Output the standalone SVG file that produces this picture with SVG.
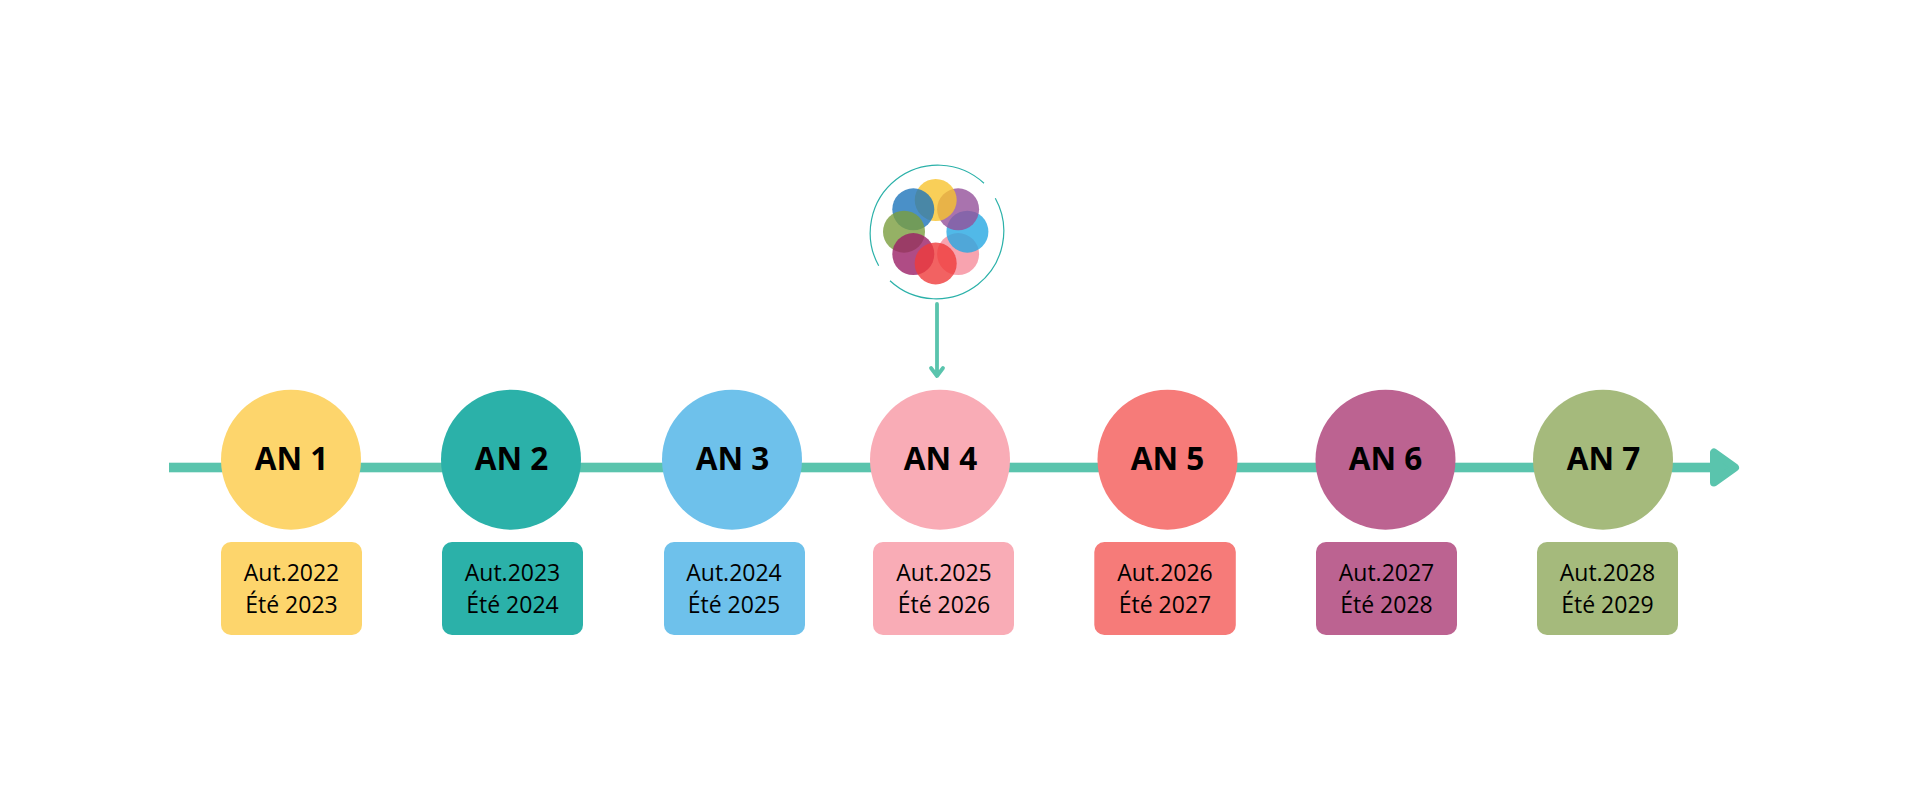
<svg xmlns="http://www.w3.org/2000/svg" width="1920" height="800" viewBox="0 0 1920 800">
<style>
.an{font:700 31.500px "Open Sans",sans-serif;text-anchor:middle;fill:#000}
.d{font:400 23px "Open Sans",sans-serif;text-anchor:middle;fill:#000}
.c1{fill:#FDD56C}.c2{fill:#2BB1A9}.c3{fill:#6EC1EB}.c4{fill:#F9ACB6}.c5{fill:#F67B79}.c6{fill:#BC6391}.c7{fill:#A5BA7C}
.ring{fill:none;stroke:#2BB1A9;stroke-width:1.200}
.p{fill-opacity:.8}
</style>
<rect width="1920" height="800" fill="#fff"/>
<g id="connectors">
<rect x="169" y="462.700" width="1545" height="9.600" fill="#5AC4AD"/>
<path d="M1714 452.500V482.500L1735 467.500Z" fill="#5AC4AD" stroke="#5AC4AD" stroke-width="8" stroke-linejoin="round"/>
<path d="M937 304V375M931 368L937 376L943 368" fill="none" stroke="#5AC4AD" stroke-width="3.800" stroke-linecap="round" stroke-linejoin="round"/>
</g>
<g id="logo">
<path class="ring" d="M984 183.300A67.700 67.700 0 0 0 878.700 265.700"/>
<path class="ring" d="M890 280.700A67.700 67.700 0 0 0 995.300 198.300"/>
<circle class="p" cx="958.100" cy="254.100" r="21" fill="#F68C9B"/>
<circle class="p" cx="967.400" cy="231.700" r="21" fill="#25A8E2"/>
<circle class="p" cx="958.100" cy="209.300" r="21" fill="#93509A"/>
<circle class="p" cx="935.700" cy="200" r="21" fill="#F7C32E"/>
<circle class="p" cx="913.300" cy="209.300" r="21" fill="#1D74BA"/>
<circle class="p" cx="904" cy="231.700" r="21" fill="#7A9E3F"/>
<circle class="p" cx="913.300" cy="254.100" r="21" fill="#9B1F66"/>
<circle class="p" cx="935.700" cy="263.400" r="21" fill="#EF3B3B"/>
</g>
<g id="an1"><circle class="c1" cx="291" cy="459.700" r="70"/><text class="an" x="291.500" y="470">AN 1</text><rect class="c1" x="221" y="542" width="141" height="93" rx="10"/><text class="d" x="291.500" y="581">Aut.2022</text><text class="d" x="291.500" y="612.500">Été 2023</text></g>
<g id="an2"><circle class="c2" cx="511" cy="459.700" r="70"/><text class="an" x="511.500" y="470">AN 2</text><rect class="c2" x="442" y="542" width="141" height="93" rx="10"/><text class="d" x="512.500" y="581">Aut.2023</text><text class="d" x="512.500" y="612.500">Été 2024</text></g>
<g id="an3"><circle class="c3" cx="732" cy="459.700" r="70"/><text class="an" x="732.500" y="470">AN 3</text><rect class="c3" x="664" y="542" width="141" height="93" rx="10"/><text class="d" x="734" y="581">Aut.2024</text><text class="d" x="734" y="612.500">Été 2025</text></g>
<g id="an4"><circle class="c4" cx="940" cy="459.700" r="70"/><text class="an" x="940.500" y="470">AN 4</text><rect class="c4" x="873" y="542" width="141" height="93" rx="10"/><text class="d" x="944" y="581">Aut.2025</text><text class="d" x="944" y="612.500">Été 2026</text></g>
<g id="an5"><circle class="c5" cx="1167.500" cy="459.700" r="70"/><text class="an" x="1167.500" y="470">AN 5</text><rect class="c5" x="1094.300" y="542" width="141.500" height="93" rx="10"/><text class="d" x="1165" y="581">Aut.2026</text><text class="d" x="1165" y="612.500">Été 2027</text></g>
<g id="an6"><circle class="c6" cx="1385.500" cy="459.700" r="70"/><text class="an" x="1385.500" y="470">AN 6</text><rect class="c6" x="1316" y="542" width="141" height="93" rx="10"/><text class="d" x="1386.500" y="581">Aut.2027</text><text class="d" x="1386.500" y="612.500">Été 2028</text></g>
<g id="an7"><circle class="c7" cx="1603" cy="459.700" r="70"/><text class="an" x="1603.500" y="470">AN 7</text><rect class="c7" x="1537" y="542" width="141" height="93" rx="10"/><text class="d" x="1607.500" y="581">Aut.2028</text><text class="d" x="1607.500" y="612.500">Été 2029</text></g>
</svg>
